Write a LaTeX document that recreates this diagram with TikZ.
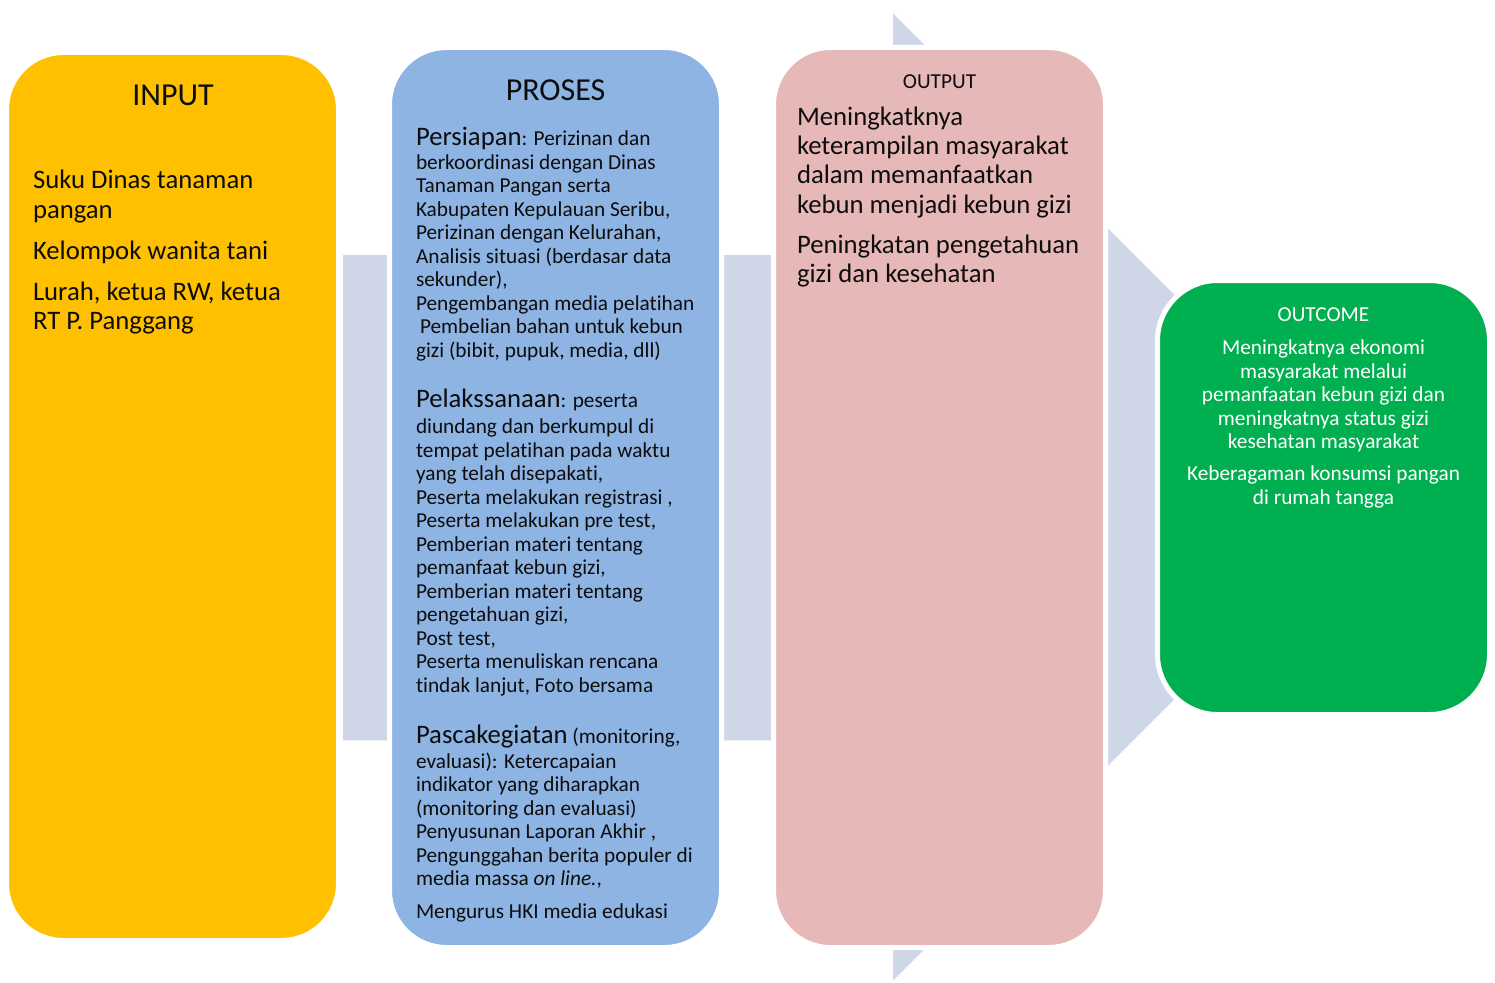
\documentclass[tikz,border=0pt]{standalone}
\usepackage{fontspec}
\setmainfont{Carlito}[Ligatures=NoCommon]
\definecolor{inY}{HTML}{FFC000}
\definecolor{prB}{HTML}{8EB4E3}
\definecolor{ouP}{HTML}{E6B9B8}
\definecolor{ocG}{HTML}{00B050}
\definecolor{arC}{HTML}{CFD6E7}
\definecolor{txC}{HTML}{0D0D0D}
\newcommand{\fTitle}{\fontsize{32}{38}\selectfont}
\newcommand{\fBig}{\fontsize{26.7}{29.3}\selectfont}
\newcommand{\fMed}{\fontsize{21.3}{23.5}\selectfont}
\newcommand{\fSub}{\fontsize{26.7}{23.5}\selectfont}
\tikzset{
  colbox/.style={rounded corners=57pt, minimum width=332pt, inner sep=0pt, outer sep=0pt, draw=white, line width=5pt},
  txt/.style={inner sep=0pt, outer sep=0pt, text=txC, align=left, anchor=base west},
  ttl/.style={inner sep=0pt, outer sep=0pt, text=txC, anchor=base},
}
\begin{document}
\begin{tikzpicture}[x=1pt,y=-1pt]
\useasboundingbox (0,0) rectangle (1495,982);
% background arrow
\fill[arC, draw=white, line width=1.5pt] (342,254) -- (892,254) -- (892,11) -- (1378,497) -- (892,983) -- (892,741) -- (342,741) -- cycle;
% boxes
\node[colbox, fill=inY, minimum height=888pt] (input) at (172.5,496.5) {};
\node[colbox, fill=prB, minimum height=900pt] (proses) at (555.5,497.5) {};
\node[colbox, fill=ouP, minimum height=900pt] (output) at (939.5,497.5) {};
\node[colbox, fill=ocG, minimum height=434pt, rounded corners=60pt] (outcome) at (1323.5,497.5) {};
% INPUT
\node[ttl, font=\fTitle] (inT) at (173,105.3) {INPUT};
\node[txt, font=\fBig] (inB) at (33,329.5) {Suku Dinas tanaman\\pangan\\[11.7pt]Kelompok wanita tani\\[11.7pt]Lurah, ketua RW, ketua\\RT P. Panggang};
% PROSES
\node[ttl, font=\fTitle] (prT) at (555.5,100.3) {PROSES};
\node[txt, font=\fMed] (pr1) at (416,357) {{\fSub Persiapan}: Perizinan dan\\[0.5pt]
berkoordinasi dengan Dinas\\
Tanaman Pangan serta\\
Kabupaten Kepulauan Seribu,\\
Perizinan dengan Kelurahan,\\
Analisis situasi (berdasar data\\
sekunder),\\
Pengembangan media pelatihan\\
\hspace*{4pt}Pembelian bahan untuk kebun\\
gizi (bibit, pupuk, media, dll)};
\node[txt, font=\fMed] (pr2) at (416,692) {{\fSub Pelakssanaan}: peserta\\[2.5pt]
diundang dan berkumpul di\\
tempat pelatihan pada waktu\\
yang telah disepakati,\\
Peserta melakukan registrasi ,\\
Peserta melakukan pre test,\\
Pemberian materi tentang\\
pemanfaat kebun gizi,\\
Pemberian materi tentang\\
pengetahuan gizi,\\
Post test,\\
Peserta menuliskan rencana\\
tindak lanjut, Foto bersama};
\node[txt, font=\fMed] (pr3) at (416,918) {{\fSub Pascakegiatan} (monitoring,\\[1.5pt]
evaluasi): Ketercapaian\\
indikator yang diharapkan\\
(monitoring dan evaluasi)\\
Penyusunan Laporan Akhir ,\\
Pengunggahan berita populer di\\
media massa \textit{on line.},\\[9pt]
Mengurus HKI media edukasi};
% OUTPUT
\node[ttl, font=\fMed] (ouT) at (939.5,88) {OUTPUT};
\node[txt, font=\fBig] (ouB) at (797,282.6) {Meningkatknya\\
keterampilan masyarakat\\
dalam memanfaatkan\\
kebun menjadi kebun gizi\\[10.8pt]
Peningkatan pengetahuan\\
gizi dan kesehatan};
% OUTCOME
\node[ttl, font=\fMed, text=white] (ocT) at (1323.5,321) {OUTCOME};
\node[ttl, font=\fMed, text=white, align=center] (ocB) at (1323.5,504) {Meningkatnya ekonomi\\
masyarakat melalui\\
pemanfaatan kebun gizi dan\\
meningkatnya status gizi\\
kesehatan masyarakat\\[8.5pt]
Keberagaman konsumsi pangan\\
di rumah tangga};
\end{tikzpicture}
\end{document}
